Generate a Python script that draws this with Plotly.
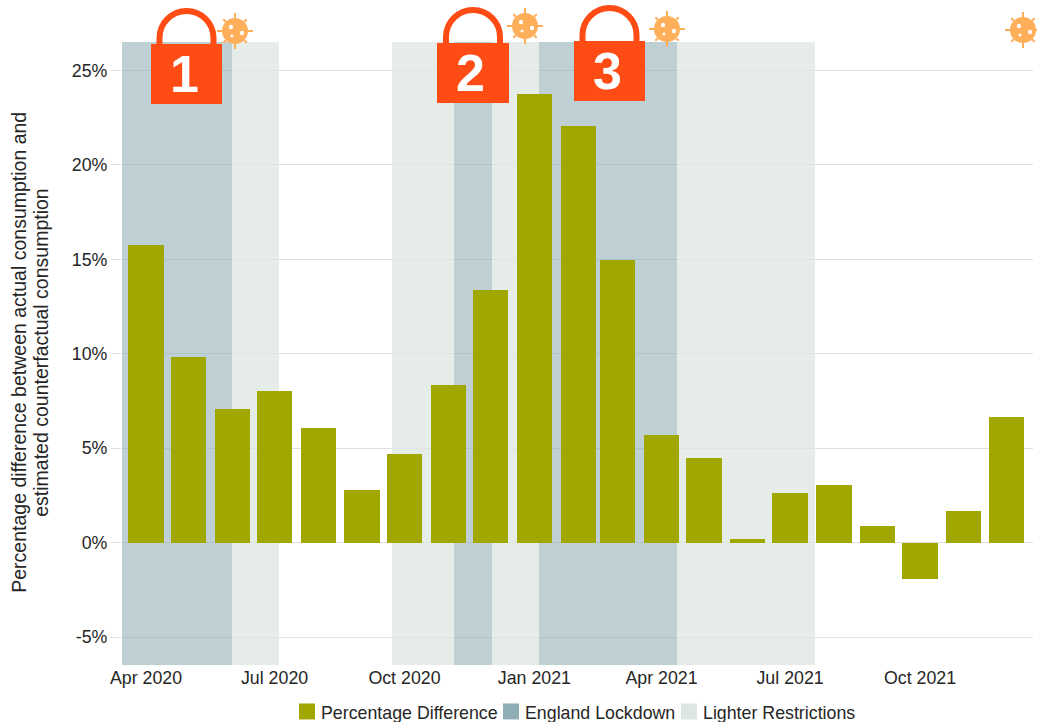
import plotly.graph_objects as go
from datetime import datetime

W, H = 1037, 722
L, R, T, B = 122, 1033, 42, 665.5

months = ["2020-04-01","2020-05-01","2020-06-01","2020-07-01","2020-08-01","2020-09-01","2020-10-01","2020-11-01","2020-12-01",
          "2021-01-01","2021-02-01","2021-03-01","2021-04-01","2021-05-01","2021-06-01","2021-07-01","2021-08-01","2021-09-01",
          "2021-10-01","2021-11-01","2021-12-01"]
pct_diff = [15.75,9.83,7.08,8.03,6.08,2.8,4.7,8.35,13.37,23.73,22.04,14.96,5.7,4.49,0.2,2.64,3.07,0.9,-1.9,1.69,6.66]
lockdown_periods = [("2020-03-15","2020-06-01"),("2020-11-05","2020-12-02"),("2021-01-04","2021-04-12")]
lighter_periods = [("2020-06-01","2020-07-04"),("2020-09-22","2020-11-05"),("2020-12-02","2021-01-04"),("2021-04-12","2021-07-19")]
tick_dates = ["2020-04-01","2020-07-01","2020-10-01","2021-01-01","2021-04-01","2021-07-01","2021-10-01"]
tick_labels = ["Apr 2020","Jul 2020","Oct 2020","Jan 2021","Apr 2021","Jul 2021","Oct 2021"]
y_ticks = [-5,0,5,10,15,20,25]
y_labels = ["-5%","0%","5%","10%","15%","20%","25%"]
y_range = [-6.47,26.5]
x_range = ["2020-03-15","2021-12-20"]
y_title_lines = [("Percentage difference between actual consumption and",19),("estimated counterfactual consumption",41)]
lock_labels = [("1",151,222,44,104),("2",437,509,43,103),("3",574,645,41,101)]
virus_spots = [(235,31),(525,26),(667,29),(1023,30)]
legend_items = [("Percentage Difference",299,321,"#a0a800"),("England Lockdown",503,525,"#8fadb5"),("Lighter Restrictions",681,703,"#dde6e0")]

FONT = "Liberation Sans, Arial, sans-serif"
DARK = "#262626"
GREEN = "#a0a800"
ORANGE = "#ff4b14"
VIRUS = "#ffae5a"

D = lambda s: datetime.strptime(s, "%Y-%m-%d")
px = lambda x: (x - L) / (R - L)
py = lambda y: (B - y) / (B - T)

def spans(periods):
    xs, ws = [], []
    for a, b in periods:
        a, b = D(a), D(b)
        xs.append(a + (b - a) / 2)
        ws.append((b - a).total_seconds() * 1000)
    return xs, ws

fig = go.Figure()
h = y_range[1] - y_range[0]
for name, periods, color in [("England Lockdown", lockdown_periods, "rgba(143,173,181,0.57)"),
                             ("Lighter Restrictions", lighter_periods, "rgba(221,230,224,0.72)")]:
    xs, ws = spans(periods)
    fig.add_trace(go.Bar(x=xs, y=[h]*len(xs), base=y_range[0], width=ws, marker=dict(color=color, line_width=0),
                         showlegend=False, name=name, hoverinfo="skip"))

fig.add_trace(go.Bar(x=months, y=pct_diff, width=25*86400000, marker=dict(color=GREEN, line_width=0),
                     name="Percentage Difference", showlegend=False))

shapes, ann = [], []
def pshape(**k):
    shapes.append(dict(xref="paper", yref="paper", layer="above", **k))

for label, x0, x1, y0, y1 in lock_labels:
    pshape(type="rect", x0=px(x0), x1=px(x1), y0=py(y1), y1=py(y0), fillcolor=ORANGE, line_width=0)
    cx = (x0 + x1) / 2
    rx = 27
    top = y0 - 33
    mid = top + rx
    path = (f"M {px(cx-rx)} {py(y0)} L {px(cx-rx)} {py(mid)} "
            f"C {px(cx-rx)} {py(mid-rx*.55)}, {px(cx-rx*.55)} {py(top)}, {px(cx)} {py(top)} "
            f"C {px(cx+rx*.55)} {py(top)}, {px(cx+rx)} {py(mid-rx*.55)}, {px(cx+rx)} {py(mid)} L {px(cx+rx)} {py(y0)}")
    pshape(type="path", path=path, line=dict(color=ORANGE, width=6))
    ann.append(dict(text=f"<b>{label}</b>", x=px(cx-2.5), y=py((y0+y1)/2), xref="paper", yref="paper", showarrow=False,
                    xanchor="center", yanchor="middle", font=dict(family=FONT, size=52, color="white")))

for cx, cy in virus_spots:
    r = 13
    pshape(type="circle", x0=px(cx-r), x1=px(cx+r), y0=py(cy+r), y1=py(cy-r), fillcolor=VIRUS, line_width=0)
    for dx, dy in [(1,0),(-1,0),(0,1),(0,-1),(.71,.71),(-.71,.71),(.71,-.71),(-.71,-.71)]:
        k = 18 if dx == 0 or dy == 0 else 16.5
        pshape(type="line", x0=px(cx+dx*r), x1=px(cx+dx*k), y0=py(cy+dy*r), y1=py(cy+dy*k), line=dict(color=VIRUS, width=2))
    for dx, dy, s in [(-4,-4,2.2),(7,2,2.2),(-3,5,1.5)]:
        pshape(type="circle", x0=px(cx+dx-s), x1=px(cx+dx+s), y0=py(cy+dy+s), y1=py(cy+dy-s), fillcolor="white", line_width=0)

for text, sx, tx, color in legend_items:
    pshape(type="rect", x0=px(sx), x1=px(sx+16), y0=py(720), y1=py(704), fillcolor=color, line_width=0)
    ann.append(dict(text=text, x=px(tx-2), y=py(713.5), xref="paper", yref="paper", showarrow=False,
                    xanchor="left", yanchor="middle", font=dict(family=FONT, size=17.8, color=DARK)))

for text, lx in y_title_lines:
    ann.append(dict(text=text, x=px(lx), y=py(353), xref="paper", yref="paper", showarrow=False, textangle=-90,
                    xanchor="center", yanchor="middle", font=dict(family=FONT, size=19.5, color=DARK)))

fig.update_layout(
    width=W, height=H, margin=dict(l=L, r=W-R, t=T, b=H-B, autoexpand=False),
    paper_bgcolor="white", plot_bgcolor="white", barmode="overlay", bargap=0, showlegend=False,
    font=dict(family=FONT, size=18, color=DARK), shapes=shapes, annotations=ann,
    xaxis=dict(type="date", range=x_range, tickvals=tick_dates, ticktext=tick_labels, showgrid=False, zeroline=False,
               ticks="", tickfont=dict(size=17.8, color=DARK), showline=False),
    yaxis=dict(range=y_range, tickvals=y_ticks, ticktext=y_labels, showgrid=True, gridcolor="#dfe0df", gridwidth=1,
               zeroline=False, ticks="outside", ticklen=10, tickcolor="#dfe0df", tickfont=dict(size=17.8, color=DARK), showline=False),
)
fig.write_html("out.html", config={"displayModeBar": False},
               post_script="document.body.style.margin='0';document.body.style.overflow='hidden';")
